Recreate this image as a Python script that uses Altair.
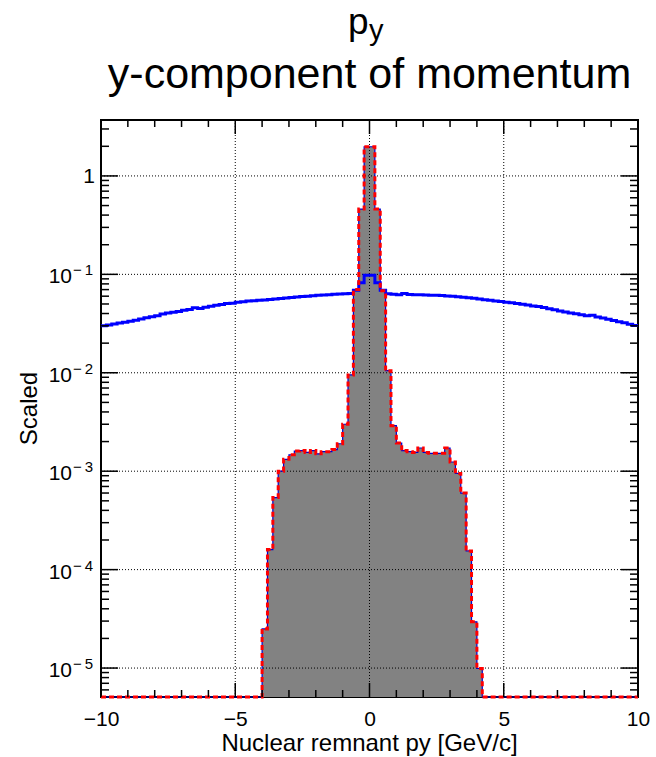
import altair as alt
import pandas as pd

# ---- axis ranges and binning ----
X_MIN, X_MAX, BIN_W = -10.0, 10.0, 0.2
N_BINS = 100
Y_MIN, Y_MAX = 5.08e-6, 3.7

# ---- histogram contents (scaled) ----
# nuclear remnant p_y: non-empty bins cover [-4.0, 4.2)
remnant_first_edge = -4.0
remnant_vals = [
    2.5e-5, 1.6e-4, 5.4e-4, 1.0e-3, 1.32e-3, 1.47e-3, 1.6e-3, 1.62e-3,
    1.55e-3, 1.62e-3, 1.5e-3, 1.58e-3, 1.58e-3, 1.66e-3, 1.9e-3, 3.0e-3,
    9.5e-3, 0.07, 0.46, 1.98, 1.98, 0.46, 0.068, 0.0105,
    2.9e-3, 1.93e-3, 1.62e-3, 1.58e-3, 1.55e-3, 1.72e-3, 1.55e-3, 1.52e-3,
    1.52e-3, 1.52e-3, 1.72e-3, 1.24e-3, 9.5e-4, 6.0e-4, 1.55e-4, 2.95e-5,
    9.9e-6,
]

# broad reference distribution over the full range
broad_vals = [
    0.0300, 0.0305, 0.0313, 0.0320, 0.0326, 0.0334, 0.0342, 0.0352, 0.0362, 0.0370,
    0.0380, 0.0395, 0.0405, 0.0412, 0.0420, 0.0432, 0.0440, 0.0458, 0.0450, 0.0462,
    0.0475, 0.0485, 0.0493, 0.0505, 0.0510, 0.0520, 0.0527, 0.0535, 0.0540, 0.0545,
    0.0550, 0.0556, 0.0562, 0.0568, 0.0575, 0.0582, 0.0588, 0.0594, 0.0600, 0.0606,
    0.0612, 0.0618, 0.0622, 0.0628, 0.0632, 0.0636, 0.0640, 0.0690, 0.0820, 0.0980,
    0.0980, 0.0820, 0.0690, 0.0635, 0.0628, 0.0620, 0.0640, 0.0625, 0.0622, 0.0620,
    0.0618, 0.0615, 0.0612, 0.0608, 0.0602, 0.0598, 0.0592, 0.0586, 0.0580, 0.0572,
    0.0562, 0.0553, 0.0545, 0.0537, 0.0530, 0.0522, 0.0515, 0.0506, 0.0497, 0.0488,
    0.0478, 0.0470, 0.0460, 0.0448, 0.0436, 0.0425, 0.0415, 0.0405, 0.0398, 0.0388,
    0.0380, 0.0385, 0.0368, 0.0360, 0.0350, 0.0340, 0.0330, 0.0322, 0.0312, 0.0302,
]

# ---- tick / grid positions ----
x_major = [-10, -5, 0, 5, 10]
x_minor = [v for v in range(-10, 11) if v % 5 != 0]
x_grid = [-5, 0, 5]
y_decades = [1e-5, 1e-4, 1e-3, 1e-2, 1e-1, 1.0]
y_minor = [m * 10.0 ** d for d in range(-6, 1) for m in range(2, 10)
           if Y_MIN < m * 10.0 ** d < Y_MAX]
y_label_exp = ["\u2212\u20095", "\u2212\u20094", "\u2212\u20093", "\u2212\u20092", "\u2212\u20091"]

W, H = 537, 577
FONT = "Liberation Sans"

# ---- build step tables (one row per bin edge) ----
edges = [round(X_MIN + i * BIN_W, 1) for i in range(N_BINS + 1)]
first = int(round((remnant_first_edge - X_MIN) / BIN_W))
remnant_full = [0.0] * N_BINS
for k, v in enumerate(remnant_vals):
    remnant_full[first + k] = v

def step_table(vals):
    ys = list(vals) + [vals[-1]]
    return pd.DataFrame({"x": edges, "y": [max(v, Y_MIN) for v in ys],
                         "base": [Y_MIN] * len(edges)})

remnant_df = step_table(remnant_full)
broad_df = step_table(broad_vals)

xscale = alt.Scale(domain=[X_MIN, X_MAX], nice=False, zero=False)
yscale = alt.Scale(type="log", domain=[Y_MIN, Y_MAX], nice=False)
xaxis = alt.Axis(values=x_major, ticks=False, tickSize=0, domain=False, grid=False,
                 labelFont=FONT, labelFontSize=21, labelColor="black",
                 labelPadding=11, labelFlush=False, labelOverlap=False, title=None)

def X(field):
    return alt.X(field, type="quantitative", scale=xscale, axis=xaxis)

def Y(field):
    return alt.Y(field, type="quantitative", scale=yscale, axis=None)

# filled remnant histogram
fill = alt.Chart(remnant_df).mark_area(
    interpolate="step-after", color="#828282", opacity=1
).encode(x=X("x"), y=Y("y"), y2="base")

# dotted grid
grid_x = alt.Chart(pd.DataFrame({"v": x_grid})).mark_rule(
    color="black", strokeWidth=1, strokeDash=[1, 2]
).encode(x=X("v"), y=alt.value(0), y2=alt.value(H))
grid_y = alt.Chart(pd.DataFrame({"v": y_decades})).mark_rule(
    color="black", strokeWidth=1, strokeDash=[1, 2]
).encode(y=Y("v"), x=alt.value(0), x2=alt.value(W))

# outlines
remnant_outline = alt.Chart(remnant_df).mark_line(
    interpolate="step-after", color="#0000cc", strokeWidth=1.2
).encode(x=X("x"), y=Y("y"))
broad_line = alt.Chart(broad_df).mark_line(
    interpolate="step-after", color="#0000ff", strokeWidth=3
).encode(x=X("x"), y=Y("y"))
remnant_dash = alt.Chart(remnant_df).mark_line(
    interpolate="step-after", color="#ff0000", strokeWidth=3, strokeDash=[5, 3]
).encode(x=X("x"), y=Y("y"))

# inward ticks on all four sides
def xticks(vals, length):
    df = pd.DataFrame({"v": vals})
    bottom = alt.Chart(df).mark_rule(color="black", strokeWidth=1.5).encode(
        x=X("v"), y=alt.value(H), y2=alt.value(H - length))
    top = alt.Chart(df).mark_rule(color="black", strokeWidth=1.5).encode(
        x=X("v"), y=alt.value(0), y2=alt.value(length))
    return [bottom, top]

def yticks(vals, length):
    df = pd.DataFrame({"v": vals})
    left = alt.Chart(df).mark_rule(color="black", strokeWidth=1.5).encode(
        y=Y("v"), x=alt.value(0), x2=alt.value(length))
    right = alt.Chart(df).mark_rule(color="black", strokeWidth=1.5).encode(
        y=Y("v"), x=alt.value(W), x2=alt.value(W - length))
    return [left, right]

ticks = xticks(x_major, 14) + xticks(x_minor, 7) + yticks(y_decades, 17) + yticks(y_minor, 8)

# y labels: "1" and 10^n with raised exponent
one_label = alt.Chart(pd.DataFrame({"v": [1.0], "t": ["1"]})).mark_text(
    font=FONT, fontSize=21, align="right", baseline="middle", dy=1
).encode(y=Y("v"), x=alt.value(-6), text="t:N")
pow_df = pd.DataFrame({"v": y_decades[:-1], "base": ["10"] * 5, "exp": y_label_exp})
pow_base = alt.Chart(pow_df).mark_text(
    font=FONT, fontSize=21, align="right", baseline="middle", dy=3
).encode(y=Y("v"), x=alt.value(-29), text="base:N")
pow_exp = alt.Chart(pow_df).mark_text(
    font=FONT, fontSize=15, align="left", baseline="middle", dy=-4
).encode(y=Y("v"), x=alt.value(-28), text="exp:N")

# titles
def text_at(txt, x, y, size, align="center", angle=0):
    kw = dict(font=FONT, fontSize=size, align=align, baseline="alphabetic", color="black")
    if angle:
        kw["angle"] = angle
    return alt.Chart(pd.DataFrame({"t": [txt]})).mark_text(**kw).encode(
        x=alt.value(x), y=alt.value(y), text="t:N")

title_p = text_at("p", 267.5, -86, 37, align="right")
title_sub = text_at("y", 268, -80, 29, align="left")
title_main = text_at("y-component of momentum", W / 2, -32, 43)
x_title = text_at("Nuclear remnant py [GeV/c]", W / 2, H + 54, 24)
y_title = text_at("Scaled", -64, H / 2, 24, angle=270)

chart = alt.layer(
    fill, grid_x, grid_y, remnant_outline, broad_line, remnant_dash,
    *ticks, one_label, pow_base, pow_exp,
    title_p, title_sub, title_main, x_title, y_title,
).properties(
    width=W, height=H,
    padding={"left": 101, "top": 120, "right": 18, "bottom": 60},
    autosize=alt.AutoSizeParams(type="none"),
    background="white",
).configure_view(stroke="black", strokeWidth=2)

chart.save("out.html", embed_options={"renderer": "svg", "actions": False})
